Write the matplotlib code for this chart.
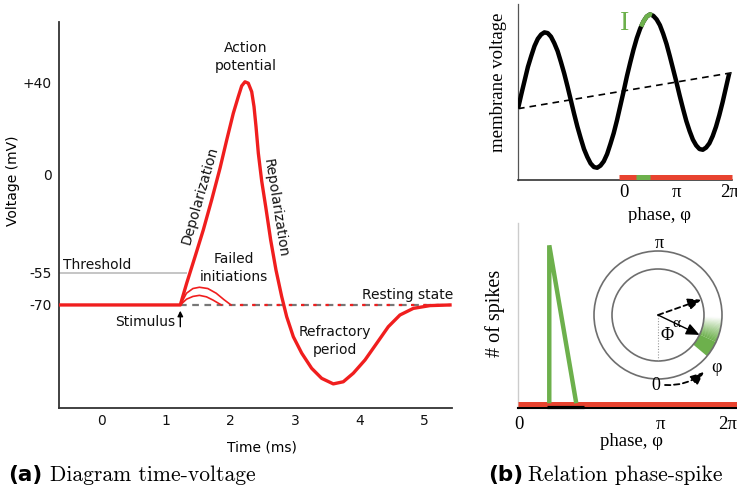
import numpy as np
import matplotlib
matplotlib.use("Agg")
import matplotlib.pyplot as plt
from matplotlib.patches import Circle, Wedge

# ---------------- data ----------------
# (a) action potential (time ms, voltage mV)
ap_time = [-0.655, 1.224, 1.323, 1.452, 1.580, 1.710, 1.839, 1.943, 2.045, 2.122, 2.175,
           2.226, 2.277, 2.330, 2.366, 2.397, 2.433, 2.485, 2.547, 2.624, 2.706, 2.795,
           2.872, 2.975, 3.105, 3.259, 3.414, 3.594, 3.749, 3.904, 4.085, 4.266, 4.446,
           4.627, 4.834, 5.092, 5.402]
ap_volt = [-70, -70, -59.8, -45.9, -30.9, -14.0, 2.9, 15.2, 26.8, 34.0, 38.7,
           40.5, 39.9, 36.2, 29.7, 21.0, 9.4, -3.4, -17.8, -36.5, -53.3, -66.1,
           -75.5, -84.9, -92.6, -99.7, -104.4, -107.0, -106.0, -102.0, -95.8, -88.0, -80.2,
           -74.7, -71.6, -70.3, -70]
fail1_time = [1.224, 1.32, 1.42, 1.52, 1.65, 1.78, 1.90, 2.01]
fail1_volt = [-70, -64.5, -62.3, -61.7, -62.3, -64.5, -67.5, -70]
fail2_time = [1.224, 1.32, 1.42, 1.52, 1.63, 1.73, 1.86]
fail2_volt = [-70, -67.3, -66.0, -65.5, -66.2, -67.7, -70]
threshold_mV = -55
rest_mV = -70
stimulus_ms = 1.224
a_xticks = [0, 1, 2, 3, 4, 5]
a_yticks = [40, 0, -55, -70]
a_yticklabels = ["+40", "0", "-55", "-70"]
volt_anchor = [-70, -55, 0, 40]      # schematic (non-linear) voltage axis
pos_anchor = [0, 32, 130, 222]

# (b) top: membrane voltage vs phase (sampled every pi/16 from -2pi to 2pi)
wave_phase = np.linspace(-2, 2, 65) * np.pi
wave_volt = [0.99, 1.19, 1.38, 1.57, 1.72, 1.86, 1.96, 2.02, 2.05, 2.04, 1.99, 1.90, 1.79,
             1.64, 1.48, 1.30, 1.11, 0.92, 0.74, 0.58, 0.43, 0.32, 0.23, 0.18, 0.17, 0.20,
             0.26, 0.36, 0.50, 0.65, 0.83, 1.03, 1.23, 1.44, 1.63, 1.81, 1.97, 2.10, 2.20,
             2.27, 2.30, 2.28, 2.23, 2.15, 2.03, 1.89, 1.72, 1.54, 1.36, 1.17, 0.99, 0.82,
             0.68, 0.56, 0.48, 0.43, 0.42, 0.45, 0.51, 0.61, 0.74, 0.90, 1.08, 1.28, 1.48]
hi_phase = [1.04, 1.178, 1.374, 1.571, 1.69]
hi_volt = [2.13, 2.20, 2.27, 2.30, 2.29]
thr_phase = [-2 * np.pi, 2.053 * np.pi]
thr_volt = [0.99, 1.49]
red_bar_top = [-0.3, 2.053 * np.pi]
green_bar_top = [0.74, 1.58]
top_xticks = [0, np.pi, 2 * np.pi]
phase_ticklabels = ["0", "π", "2π"]

# (b) bottom: spike histogram vs phase
spike_phase = [0.668, 0.668, 1.270]
spike_count = [0.3, 10.2, 0.3]
hist_base_phase = [0.617, 1.433]
phase_anchor = [0, np.pi, 2 * np.pi]   # schematic phase axis
phase_pos = [0, 141, 209]

# inset circle diagram (angles in degrees)
ring_outer, ring_inner = 64, 46
green_span = [-40, -25]
fade_span = [-25, -2]
ref_angle = 19.5
phi_angle = -25.6

RED = "#f01e1e"
BARRED = "#e8432f"
GREEN = "#6db04c"

# ---------------- figure ----------------
W, H = 737, 491
fig = plt.figure(figsize=(W / 100, H / 100), dpi=100)
fig.patch.set_facecolor("white")


def rect(l, t, r, b):
    return [l / W, (H - b) / H, (r - l) / W, (b - t) / H]


def make_pw(xa, ya):
    xa = np.asarray(xa, float)
    ya = np.asarray(ya, float)
    s0 = (ya[1] - ya[0]) / (xa[1] - xa[0])
    s1 = (ya[-1] - ya[-2]) / (xa[-1] - xa[-2])

    def f(v):
        v = np.asarray(v, float)
        p = np.interp(v, xa, ya)
        p = np.where(v < xa[0], ya[0] + (v - xa[0]) * s0, p)
        p = np.where(v > xa[-1], ya[-1] + (v - xa[-1]) * s1, p)
        return p
    return f


# ---------- panel (a) ----------
ax = fig.add_axes(rect(59, 22, 452, 408))
ax.set_yscale("function", functions=(make_pw(volt_anchor, pos_anchor),
                                      make_pw(pos_anchor, volt_anchor)))
ax.set_xlim(-0.655, 5.433)
ax.set_ylim(-118.3, 66.5)
for s in ["top", "right"]:
    ax.spines[s].set_visible(False)
for s in ["left", "bottom"]:
    ax.spines[s].set_color("#333333")
    ax.spines[s].set_linewidth(1.3)
ax.set_xticks(a_xticks)
ax.set_xticklabels([str(t) for t in a_xticks])
ax.set_yticks(a_yticks)
ax.set_yticklabels(a_yticklabels)
ax.minorticks_off()
ax.tick_params(length=0, labelsize=10, colors="#111111")
ax.tick_params(axis="x", pad=4)
ax.tick_params(axis="y", pad=5)
ax.set_xlabel("Time (ms)", fontsize=10)
ax.set_ylabel("Voltage (mV)", fontsize=10)
ax.xaxis.set_label_coords(0.5165, -0.083)
ax.yaxis.set_label_coords(-0.099, 0.59)

ax.hlines(threshold_mV, -0.655, 1.323, color="#bbbbbb", lw=1.2, zorder=1)
ax.hlines(rest_mV, stimulus_ms, 5.402, color="#777777", lw=1.6, linestyles=(0, (3, 2.5)), zorder=2)
ax.hlines(rest_mV, 2.01, 5.402, color=RED, lw=1.6, linestyles=(1.5, (1.5, 4)), zorder=3)
ax.plot(fail1_time, fail1_volt, color=RED, lw=1.2, zorder=4)
ax.plot(fail2_time, fail2_volt, color=RED, lw=1.2, zorder=4)
ax.plot(ap_time, ap_volt, color=RED, lw=2.4, solid_joinstyle="round", zorder=5)
ax.annotate("", xy=(stimulus_ms, -71.4), xytext=(stimulus_ms, -81.5),
            arrowprops=dict(arrowstyle="-|>", color="black", lw=1.0, mutation_scale=8))

tk = dict(fontsize=10, color="#111111")
ax.text(2.24, 51.3, "Action\npotential", ha="center", va="center", linespacing=1.3, **tk)
ax.text(1.53, -11.2, "Depolarization", ha="center", va="center", rotation=74, **tk)
ax.text(2.69, -18.5, "Repolarization", ha="center", va="center", rotation=-81, **tk)
ax.text(2.06, -52.2, "Failed\ninitiations", ha="center", va="center", linespacing=1.3, **tk)
ax.text(4.74, -65.3, "Resting state", ha="center", va="center", **tk)
ax.text(-0.59, -50.5, "Threshold", ha="left", va="center", **tk)
ax.text(1.145, -78.0, "Stimulus", ha="right", va="center", **tk)
ax.text(3.62, -86.9, "Refractory\nperiod", ha="center", va="center", linespacing=1.3, **tk)

# ---------- panel (b) top ----------
serif = "Liberation Serif"
bt = fig.add_axes(rect(518, 4, 732, 180))
bt.set_xlim(-2 * np.pi, 2.053 * np.pi)
bt.set_ylim(0, 2.444)
for s in ["top", "right"]:
    bt.spines[s].set_visible(False)
bt.spines["left"].set_color("#555555")
bt.spines["left"].set_linewidth(0.9)
bt.spines["bottom"].set_color("#333333")
bt.spines["bottom"].set_linewidth(1.2)
bt.set_yticks([])
bt.set_xticks(top_xticks)
bt.set_xticklabels(phase_ticklabels, family=serif, fontsize=13.5)
bt.tick_params(length=0, pad=3)
bt.set_xlabel("phase, φ", family=serif, fontsize=13.5)
bt.xaxis.set_label_coords(0.659, -0.153)
bt.set_ylabel("membrane voltage", family=serif, fontsize=13.5)
bt.yaxis.set_label_coords(-0.053, 0.557)
bt.plot(thr_phase, thr_volt, color="black", lw=1.2, ls=(0, (4, 3)), zorder=2)
bt.plot(wave_phase, wave_volt, color="black", lw=3.2, solid_joinstyle="round",
        solid_capstyle="butt", zorder=3)
bt.plot(hi_phase, hi_volt, color=GREEN, lw=3.2, solid_capstyle="butt", zorder=4)
bt.plot(red_bar_top, [0.046, 0.046], color=BARRED, lw=3.6, solid_capstyle="butt",
        zorder=5, clip_on=False)
bt.plot(green_bar_top, [0.046, 0.046], color=GREEN, lw=3.6, solid_capstyle="butt",
        zorder=6, clip_on=False)
bt.text(0.03, 2.18, "I", family=serif, fontsize=20, color=GREEN, ha="center", va="center")

# ---------- panel (b) bottom ----------
bb = fig.add_axes(rect(518, 223, 737, 408))
bb.set_xscale("function", functions=(make_pw(phase_anchor, phase_pos),
                                      make_pw(phase_pos, phase_anchor)))
bb.set_xlim(-0.03, 6.70)
bb.set_ylim(0, 11.6)
for s in ["top", "right"]:
    bb.spines[s].set_visible(False)
bb.spines["left"].set_color("#cccccc")
bb.spines["left"].set_linewidth(1.0)
bb.spines["bottom"].set_color("black")
bb.spines["bottom"].set_linewidth(1.5)
bb.set_yticks([])
bb.set_xticks(phase_anchor)
bb.set_xticklabels(phase_ticklabels, family=serif, fontsize=13.5)
bb.minorticks_off()
bb.tick_params(length=0, pad=6)
bb.set_xlabel("phase, φ", family=serif, fontsize=13.5)
bb.xaxis.set_label_coords((631.7 - 518) / 219, (408 - 433) / 185)
bb.set_ylabel("# of spikes", family=serif, fontsize=14.5)
bb.yaxis.set_label_coords((505 - 518) / 219, (408 - 313) / 185)
bb.plot([-0.03, 6.70], [0.27, 0.27], color=BARRED, lw=3.6, solid_capstyle="butt",
        zorder=3, clip_on=False)
bb.plot(hist_base_phase, [0.06, 0.06], color="black", lw=2.3, solid_capstyle="butt",
        zorder=4, clip_on=False)
bb.plot(spike_phase, spike_count, color=GREEN, lw=3.2, solid_joinstyle="miter",
        solid_capstyle="butt", zorder=5)

# ---------- inset circle diagram ----------
ai = fig.add_axes(rect(580, 235, 737, 395))
ai.set_xlim(-78, 79)
ai.set_ylim(-80, 80)
ai.axis("off")
ai.patch.set_alpha(0)
width = ring_outer - ring_inner
ai.add_patch(Wedge((0, 0), ring_outer, green_span[0], green_span[1], width=width,
                   facecolor=GREEN, edgecolor="none", zorder=1))
nsteps = 20
for i in range(nsteps):
    a0 = fade_span[0] + (fade_span[1] - fade_span[0]) * i / nsteps
    a1 = fade_span[0] + (fade_span[1] - fade_span[0]) * (i + 1) / nsteps
    ai.add_patch(Wedge((0, 0), ring_outer, a0, a1 + 0.3, width=width, facecolor=GREEN,
                       edgecolor="none", alpha=(1 - (i + 0.5) / nsteps) ** 1.1, zorder=1))
for r in (ring_outer, ring_inner):
    ai.add_patch(Circle((0, 0), r, fill=False, edgecolor="#6e6e6e", lw=1.2, zorder=2))
ai.plot([0, 0], [0, -ring_inner], color="#999999", lw=0.8, ls=(0, (1, 1.5)), zorder=2)
ra, pa = np.deg2rad(ref_angle), np.deg2rad(phi_angle)
head = "-|>,head_length=0.8,head_width=0.35"
ai.annotate("", xy=(ring_inner * np.cos(ra), ring_inner * np.sin(ra)), xytext=(0, 0),
            arrowprops=dict(arrowstyle=head, color="black",
                            lw=1.3, linestyle=(0, (3, 2)), mutation_scale=10,
                            shrinkA=0, shrinkB=0), zorder=3)
ai.annotate("", xy=(ring_inner * np.cos(pa), ring_inner * np.sin(pa)), xytext=(0, 0),
            arrowprops=dict(arrowstyle=head, color="black",
                            lw=1.0, mutation_scale=10, shrinkA=0, shrinkB=0), zorder=3)
ai.annotate("", xy=(46, -57), xytext=(7, -70),
            arrowprops=dict(arrowstyle=head, color="black",
                            lw=1.3, linestyle=(0, (3, 2)), mutation_scale=10,
                            connectionstyle="arc3,rad=0.2", shrinkA=0, shrinkB=0), zorder=3)
ai.text(18.7, -8.5, "α", family=serif, fontsize=11, ha="center", va="center")
ai.text(8.7, -21, "Φ", family=serif, fontsize=13, ha="center", va="center")
ai.text(1, 71, "π", family=serif, fontsize=13, ha="center", va="center")
ai.text(-2, -70, "0", family=serif, fontsize=13, ha="center", va="center")
ai.text(58, -52, "φ", family=serif, fontsize=13, ha="center", va="center")

# ---------- captions ----------
yb = (H - 481) / H
fig.text(8 / W, yb, "(a)", fontsize=15.5, fontweight="bold", va="baseline", ha="left")
fig.text(50 / W, yb, "Diagram time-voltage", family="cmr10", fontsize=15.5, va="baseline", ha="left")
fig.text(488 / W, yb, "(b)", fontsize=15.5, fontweight="bold", va="baseline", ha="left")
fig.text(528 / W, yb, "Relation phase-spike", family="cmr10", fontsize=15.5, va="baseline", ha="left")

fig.savefig("out.png", dpi=100, facecolor="white")
